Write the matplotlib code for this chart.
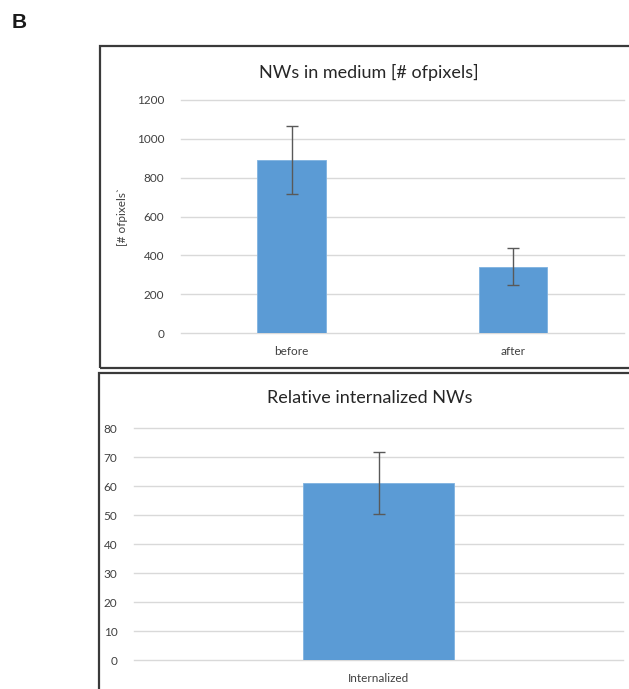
import matplotlib
matplotlib.use("Agg")
import matplotlib.pyplot as plt
from matplotlib.patches import Rectangle
import numpy as np

plt.rcParams['font.family'] = ['Lato', 'DejaVu Sans']

# Top chart: NWs remaining in the medium
medium_categories = ["before", "after"]
medium_values = [890, 342]
medium_errors = [175, 95]
medium_yticks = [0, 200, 400, 600, 800, 1000, 1200]

# Bottom chart: relative internalized NWs
internal_categories = ["Internalized"]
internal_values = [61.2]
internal_errors = [10.7]
internal_yticks = [0, 10, 20, 30, 40, 50, 60, 70, 80]

BAR_COLOR = "#5b9bd5"
GRID_COLOR = "#d9d9d9"
TEXT_COLOR = "#404040"
W, H = 629, 689

fig = plt.figure(figsize=(W / 100, H / 100), dpi=100)


def fx(px):
    return px / W


def fy(py):
    return 1 - py / H


# Panel frames
fig.patches.append(Rectangle((fx(99.5), fy(367.5)), fx(640) - fx(99.5), fy(45.5) - fy(367.5),
                             transform=fig.transFigure, fill=False, edgecolor="#3a3a3a",
                             linewidth=1.6, zorder=0))
fig.patches.append(Rectangle((fx(98.5), fy(700)), fx(640) - fx(98.5), fy(373.5) - fy(700),
                             transform=fig.transFigure, fill=False, edgecolor="#3a3a3a",
                             linewidth=1.6, zorder=0))

fig.text(fx(12), fy(23), "B", fontsize=15, fontweight="bold", family="Liberation Sans",
         ha="left", va="center", color="#1a1a1a")


def style_axes(ax, yticks):
    ax.set_ylim(yticks[0], yticks[-1])
    ax.set_yticks(yticks)
    for s in ax.spines.values():
        s.set_visible(False)
    ax.set_axisbelow(True)
    for t in yticks:
        ax.axhline(t, color=GRID_COLOR, linewidth=1.0, clip_on=False, zorder=0)
    ax.tick_params(axis="both", length=0, labelsize=8.5, labelcolor=TEXT_COLOR)
    ax.tick_params(axis="y", pad=12)
    ax.tick_params(axis="x", pad=9)


# Top axes
ax1 = fig.add_axes([fx(181), fy(333), fx(623.5) - fx(181), fy(100) - fy(333)])
x1 = np.arange(len(medium_categories))
ax1.bar(x1, medium_values, width=0.31, color=BAR_COLOR, edgecolor="#7fb2e0", linewidth=0.6,
        yerr=medium_errors, ecolor="#595959", capsize=4, error_kw=dict(elinewidth=1.0, capthick=1.0),
        zorder=2)
ax1.set_xlim(-0.5, len(medium_categories) - 0.5)
ax1.set_xticks(x1)
ax1.set_xticklabels(medium_categories)
style_axes(ax1, medium_yticks)
ax1.set_ylabel("[# ofpixels`", fontsize=8.5, color=TEXT_COLOR, labelpad=6)
fig.text(fx(369), fy(72), "NWs in medium [# ofpixels]", fontsize=13, color="#262626",
         ha="center", va="center")

# Bottom axes
ax2 = fig.add_axes([fx(134), fy(660.3), fx(623) - fx(134), fy(428.3) - fy(660.3)])
x2 = np.arange(len(internal_categories))
ax2.bar(x2, internal_values, width=0.31, color=BAR_COLOR, edgecolor="#7fb2e0", linewidth=0.6,
        yerr=internal_errors, ecolor="#595959", capsize=4, error_kw=dict(elinewidth=1.0, capthick=1.0),
        zorder=2)
ax2.set_xlim(-0.5, len(internal_categories) - 0.5)
ax2.set_xticks(x2)
ax2.set_xticklabels(internal_categories)
style_axes(ax2, internal_yticks)
fig.text(fx(370), fy(398), "Relative internalized NWs", fontsize=13, color="#262626",
         ha="center", va="center")

fig.savefig("out.png", dpi=100, facecolor="white")
